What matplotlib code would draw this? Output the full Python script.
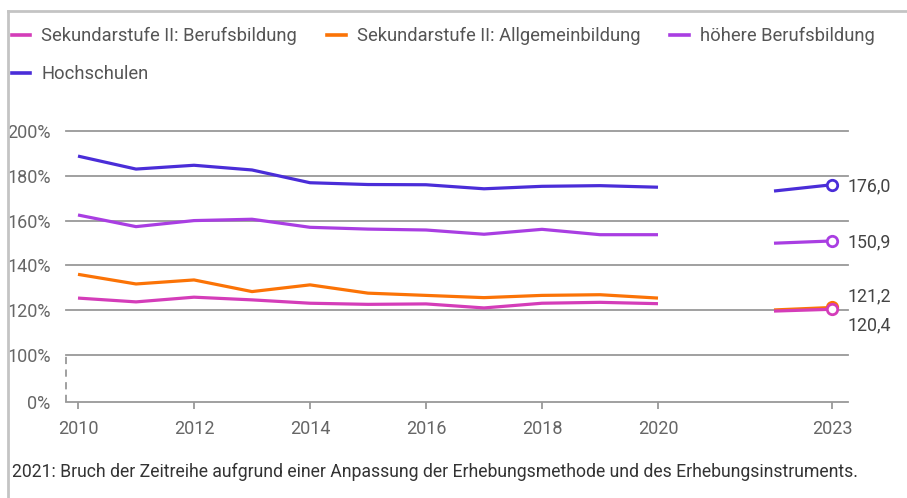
import numpy as np
import matplotlib
matplotlib.use('Agg')
import matplotlib.pyplot as plt
import matplotlib.transforms as mtransforms
from matplotlib.lines import Line2D

plt.rcParams['font.family'] = ['Roboto', 'DejaVu Sans']

# DATEN (2021: Bruch der Zeitreihe -> kein Wert)
jahre = [2010, 2011, 2012, 2013, 2014, 2015, 2016, 2017, 2018, 2019, 2020, 2021, 2022, 2023]

berufsbildung   = [125.4, 123.7, 125.8, 124.6, 123.1, 122.6, 122.8, 121.0, 123.1, 123.5, 122.9, np.nan, 119.6, 120.4]
allgemeinbildung = [136.0, 131.7, 133.5, 128.3, 131.3, 127.6, 126.6, 125.6, 126.6, 126.9, 125.4, np.nan, 120.1, 121.2]
hoehere_bb      = [162.5, 157.3, 160.0, 160.6, 157.0, 156.2, 155.8, 153.9, 156.1, 153.7, 153.7, np.nan, 149.9, 150.9]
hochschulen     = [188.8, 183.0, 184.7, 182.6, 176.9, 176.1, 176.0, 174.2, 175.3, 175.6, 174.9, np.nan, 173.2, 176.0]

serien = [
    ('Sekundarstufe II: Berufsbildung',   berufsbildung,    '#d43db9', 4),
    ('Sekundarstufe II: Allgemeinbildung', allgemeinbildung, '#fb7306', 3),
    ('höhere Berufsbildung',              hoehere_bb,       '#a93ee2', 3),
    ('Hochschulen',                       hochschulen,      '#4a2dd8', 3),
]

x_ticks = [2010, 2012, 2014, 2016, 2018, 2020, 2023]
y_ticks = [0, 100, 120, 140, 160, 180, 200]
y_labels = ['0%', '100%', '120%', '140%', '160%', '180%', '200%']

# Label-Versatz (Punkte) für die Endwerte
label_dy = {'Sekundarstufe II: Berufsbildung': -11.5,
            'Sekundarstufe II: Allgemeinbildung': 8,
            'höhere Berufsbildung': -1,
            'Hochschulen': -1}

# gebrochene Achse: 0-100% gestaucht
K = 0.21


def vor(v):
    v = np.asarray(v, dtype=float)
    return np.where(v >= 100, v, 100 - (100 - v) * K)


def zurueck(u):
    u = np.asarray(u, dtype=float)
    return np.where(u >= 100, u, 100 - (100 - u) / K)


W, H = 907, 498
fig = plt.figure(figsize=(W / 100, H / 100), dpi=100)
ax = fig.add_axes([66 / W, (H - 402) / H, (848 - 66) / W, (402 - 131) / H])
ax.set_yscale('function', functions=(vor, zurueck))
ax.set_ylim(0, 200)
ax.set_xlim(2010 - 12 / 58, 2023 + 16 / 58)

grau = '#999999'
for y in y_ticks:
    ax.axhline(y, color=grau, lw=1.3, zorder=1, clip_on=False)

trans = mtransforms.blended_transform_factory(ax.transAxes, ax.transData)
ax.plot([0, 0], [0, 100], transform=trans, color=grau, lw=1.3,
        linestyle=(0, (4, 3)), clip_on=False, zorder=1)

handles = []
for name, werte, farbe, z in serien:
    ax.plot(jahre, werte, color=farbe, lw=2.3, zorder=z,
            marker='o', markevery=[len(jahre) - 1], markersize=7.5,
            markerfacecolor='white', markeredgecolor=farbe, markeredgewidth=2,
            solid_capstyle='butt')
    ax.annotate(f'{werte[-1]:.1f}'.replace('.', ','), (jahre[-1], werte[-1]),
                xytext=(11.5, label_dy[name]), textcoords='offset points',
                ha='left', va='center', fontsize=12.8, color='#444444')
    handles.append(Line2D([], [], color=farbe, lw=2.6, label=name))

for s in ax.spines.values():
    s.set_visible(False)

ax.set_xticks(x_ticks)
ax.set_xticklabels([str(j) for j in x_ticks])
ax.set_yticks(y_ticks)
ax.set_yticklabels(y_labels)
ax.yaxis.set_minor_locator(matplotlib.ticker.NullLocator())
ax.tick_params(axis='x', direction='out', length=5, width=1.3, color=grau,
               labelcolor='#666666', labelsize=13, pad=8)
ax.tick_params(axis='y', length=0, labelcolor='#666666', labelsize=13, pad=11)

# Legende zeilenweise: matplotlib füllt spaltenweise, daher umsortieren
ordnung = [0, 3, 1, 2]
fig.legend(handles=[handles[i] for i in ordnung], loc='upper left',
           bbox_to_anchor=(12 / W, 1 - 27 / H), ncol=3,
           frameon=False, fontsize=13.2, handlelength=1.0, handletextpad=0.6,
           columnspacing=1.65, labelspacing=1.1, borderpad=0, borderaxespad=0,
           labelcolor='#555555')

fig.text(12 / W, 1 - 472 / H,
         '2021: Bruch der Zeitreihe aufgrund einer Anpassung der Erhebungsmethode und des Erhebungsinstruments.',
         ha='left', va='center', fontsize=12.7, color='#333333')

# Rahmen links/oben
fig.add_artist(Line2D([8 / W, 8 / W], [0, 1 - 11 / H], transform=fig.transFigure,
                      color='#c4c4c4', lw=2))
fig.add_artist(Line2D([8 / W, 1], [1 - 11 / H, 1 - 11 / H], transform=fig.transFigure,
                      color='#c4c4c4', lw=2))

fig.savefig('out.png', dpi=100)
